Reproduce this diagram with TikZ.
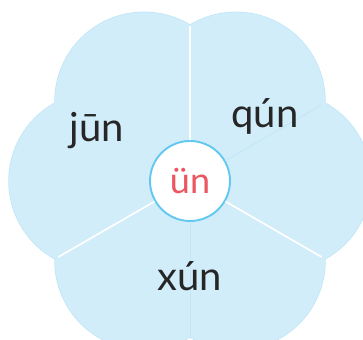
\documentclass[tikz,border=0pt]{standalone}
\usepackage{fontspec}
\setsansfont{Lato}
\usetikzlibrary{positioning}
\definecolor{petalfill}{RGB}{209,237,249}
\definecolor{petaledge}{RGB}{192,229,246}
\definecolor{seamblue}{RGB}{196,230,247}
\definecolor{hubring}{RGB}{98,200,240}
\definecolor{vowelred}{RGB}{236,86,96}
\definecolor{inkgray}{RGB}{38,38,38}
\tikzset{
  divider/.style={draw=white,line width=1.7pt},
  seam/.style={draw=seamblue,line width=0.9pt},
  hub/.style={circle,draw=hubring,fill=white,line width=1.9pt,minimum size=80pt,inner sep=0pt,
    font=\sffamily\fontsize{36}{40}\selectfont,text=vowelred},
  syll/.style={anchor=base,font=\sffamily\fontsize{40}{46}\selectfont,text=inkgray}
}

\begin{document}
\begin{tikzpicture}[x=1pt,y=1pt,line width=0.3pt]
\useasboundingbox (0,0) rectangle (363,339);
\coordinate (o) at (190,158);
\begin{scope}
\clip (0,0) rectangle (363,339);
\foreach \a in {0,60,...,300}
  \draw[petaledge,line width=1.4pt] (o) ++(\a:92) circle[radius=89];
\foreach \a in {0,60,...,300}
  \fill[petalfill] (o) ++(\a:92) circle[radius=89];
\end{scope}
\path (o) ++(90:155) coordinate (cut1);
\path (o) ++(210:152) coordinate (cut2);
\path (o) ++(330:152) coordinate (cut3);
\path (o) ++(30:152) coordinate (fold1);
\path (o) ++(270:156) coordinate (fold2);
\node[hub] (c) at (o) {ün};
\draw[seam] (c) -- (fold1);
\draw[seam] (c) -- (fold2);
\draw[divider] (c) -- (cut1);
\draw[divider] (c) -- (cut2);
\draw[divider] (c) -- (cut3);
\node[syll] (jun) at (97,197) {jūn};
\node[syll] (qun) at (265,211) {qún};
\node[syll] (xun) at (190,48) {xún};
\end{tikzpicture}
\end{document}
